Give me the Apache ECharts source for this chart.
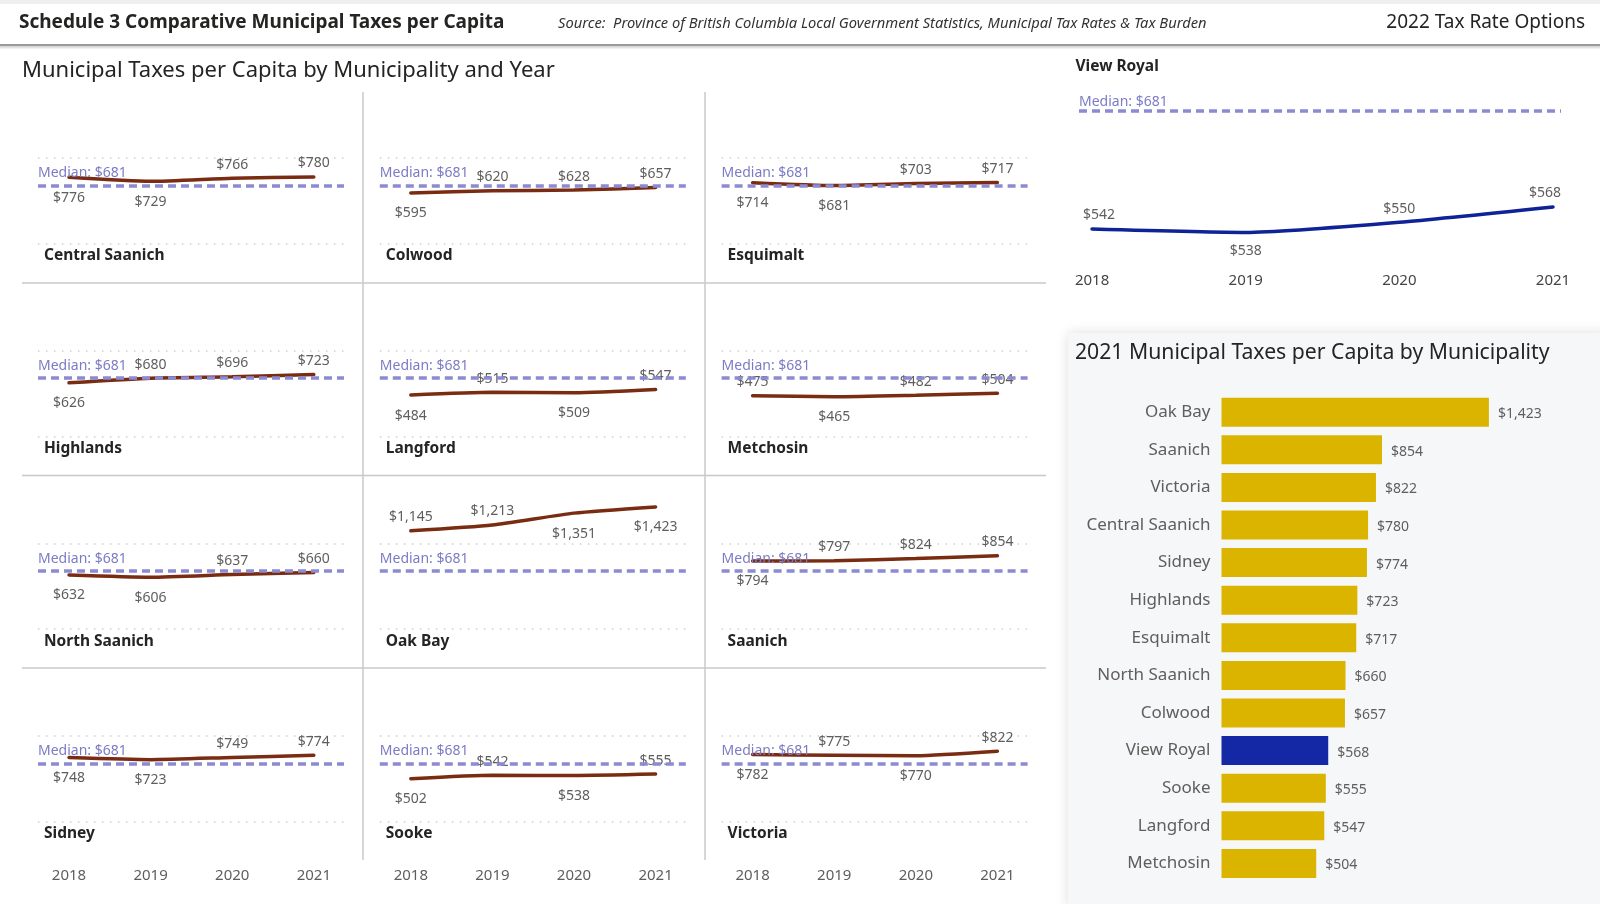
<!DOCTYPE html>
<html><head><meta charset="utf-8">
<script src="https://cdn.jsdelivr.net/npm/echarts@6/dist/echarts.min.js"></script>
<style>html,body{margin:0;padding:0;background:#fff}#c{width:1600px;height:904px}</style>
</head><body><div id="c"></div>
<script>
// ---------- data ----------
const years = [2018, 2019, 2020, 2021];
const medianValue = 681;
const municipalities = ['Central Saanich','Colwood','Esquimalt','Highlands','Langford','Metchosin','North Saanich','Oak Bay','Saanich','Sidney','Sooke','Victoria'];
const centralSaanich = [776, 729, 766, 780];
const colwood = [595, 620, 628, 657];
const esquimalt = [714, 681, 703, 717];
const highlands = [626, 680, 696, 723];
const langford = [484, 515, 509, 547];
const metchosin = [475, 465, 482, 504];
const northSaanich = [632, 606, 637, 660];
const oakBay = [1145, 1213, 1351, 1423];
const saanich = [794, 797, 824, 854];
const sidney = [748, 723, 749, 774];
const sooke = [502, 542, 538, 555];
const victoria = [782, 775, 770, 822];
const viewRoyal = [542, 538, 550, 568];
const selectedMunicipality = 'View Royal';

// label placement (style only)
const labelSides = [
  ['bottom','bottom','top','top'],
  ['bottom','top','top','top'],
  ['bottom','bottom','top','top'],
  ['bottom','top','top','top'],
  ['bottom','top','bottom','top'],
  ['top','bottom','top','top'],
  ['bottom','bottom','top','top'],
  ['top','top','bottom','bottom'],
  ['bottom','top','top','top'],
  ['bottom','bottom','top','top'],
  ['bottom','top','bottom','top'],
  ['bottom','top','bottom','top']
];
const viewRoyalSides = ['top','bottom','top','top'];

const seriesValues = [centralSaanich, colwood, esquimalt, highlands, langford, metchosin, northSaanich, oakBay, saanich, sidney, sooke, victoria];

// ---------- styles / layout ----------
const FONT = '"Noto Sans", "Open Sans", sans-serif';
const BROWN = '#7a2c12';
const MEDIAN_LINE = '#8b8bd3';
const MEDIAN_TEXT = '#7b7bc6';
const LABEL = '#605e5c';
const GOLD = '#dbb400';
const BLUE = '#1427a5';
const CELL_X0 = 38, CELL_DX = 341.8, PLOT_W = 306;
const ZERO_Y0 = 244, CELL_DY = 192.6;
const UNIT_PER_PX = 11.64;
const GRID_H = 1000 / UNIT_PER_PX;
const X_MIN = 2017.62, X_MAX = 2021.37;

const money = v => '$' + Number(v).toLocaleString('en-US');

const grids = [], xAxes = [], yAxes = [], series = [], graphics = [];

// background graphics
graphics.push({type:'rect', shape:{x:0,y:0,width:1600,height:4}, style:{fill:'#efefef'}, z:0});
graphics.push({type:'rect', shape:{x:0,y:44,width:1600,height:2.5}, style:{fill:'#9a9a9a'}, z:0});
graphics.push({type:'rect', shape:{x:0,y:46.5,width:1600,height:2}, style:{fill:'#e2e2e2'}, z:0});
graphics.push({type:'text', x:19, y:22.5, style:{text:'Schedule 3 Comparative Municipal Taxes per Capita', font:'bold 19px ' + FONT, fill:'#252423', verticalAlign:'middle'}});
graphics.push({type:'text', x:558, y:23.5, style:{text:'Source:  Province of British Columbia Local Government Statistics, Municipal Tax Rates & Tax Burden', font:'italic 14.7px ' + FONT, fill:'#333333', verticalAlign:'middle'}});
graphics.push({type:'text', x:1585, y:22.5, style:{text:'2022 Tax Rate Options', font:'19px ' + FONT, fill:'#252423', verticalAlign:'middle', align:'right'}});
graphics.push({type:'text', x:22, y:71, style:{text:'Municipal Taxes per Capita by Municipality and Year', font:'22px ' + FONT, fill:'#252423', verticalAlign:'middle'}});

// dividers of small multiples
[363, 705].forEach(x => graphics.push({type:'line', shape:{x1:x,y1:92,x2:x,y2:860}, style:{stroke:'#c8c8c8', lineWidth:1.5}, z:0}));
[283, 475.5, 668].forEach(y => graphics.push({type:'line', shape:{x1:22,y1:y,x2:1046,y2:y}, style:{stroke:'#c8c8c8', lineWidth:1.5}, z:0}));

// small multiples
municipalities.forEach((name, i) => {
  const r = Math.floor(i / 3), c = i % 3;
  const left = CELL_X0 + c * CELL_DX;
  const zeroY = ZERO_Y0 + r * CELL_DY;
  grids.push({left: left, top: zeroY - GRID_H, width: PLOT_W, height: GRID_H});
  xAxes.push({gridIndex:i, type:'value', min:X_MIN, max:X_MAX,
    axisLine:{show:false}, axisTick:{show:false}, splitLine:{show:false},
    axisLabel:{show: r === 3, customValues: years, formatter: v => String(v), margin: 46, fontSize:15, color:LABEL, fontFamily:FONT}});
  yAxes.push({gridIndex:i, type:'value', min:0, max:1000, interval:1000,
    axisLine:{show:false}, axisTick:{show:false}, axisLabel:{show:false},
    splitLine:{show:true, lineStyle:{type:[1.5,6.5], color:'#cfcfcf', width:1.5}}});
  const vals = seriesValues[i];
  series.push({
    type:'line', name:name, xAxisIndex:i, yAxisIndex:i, clip:false, smooth:0.2,
    symbol:'circle', symbolSize:1, showSymbol:true, itemStyle:{color:'rgba(0,0,0,0)'},
    lineStyle:{color:BROWN, width:3.5, cap:'round'},
    data: years.map((y, k) => ({value:[y, vals[k]], label:{position: labelSides[i][k], distance: labelSides[i][k] === 'top' ? 6 : 13}})),
    label:{show:true, formatter: p => money(p.value[1]), color:LABEL, fontSize:14, fontFamily:FONT},
    markLine:{silent:true, symbol:'none', animation:false,
      lineStyle:{type:[8,5], width:3.5, color:MEDIAN_LINE},
      label:{position:'insideStartTop', formatter: () => 'Median: ' + money(medianValue), color:MEDIAN_TEXT, fontSize:14, fontFamily:FONT, distance:[0,5]},
      data:[{yAxis: medianValue}]},
    animation:false, z:3
  });
  graphics.push({type:'text', x:left + 6, y:zeroY + 12, style:{text:name, font:'bold 15.5px ' + FONT, fill:'#252423', verticalAlign:'middle'}});
});

// View Royal chart
const vrIdx = grids.length;
grids.push({left:1079, top:94.7, width:482, height:170});
xAxes.push({gridIndex:vrIdx, type:'value', min:2017.915, max:2021.052,
  axisLine:{show:false}, axisTick:{show:false}, splitLine:{show:false},
  axisLabel:{customValues: years, formatter: v => String(v), margin:9, fontSize:15, color:'#444444', fontFamily:FONT}});
yAxes.push({gridIndex:vrIdx, type:'value', min:500, max:700,
  axisLine:{show:false}, axisTick:{show:false}, axisLabel:{show:false}, splitLine:{show:false}});
series.push({
  type:'line', name:selectedMunicipality, xAxisIndex:vrIdx, yAxisIndex:vrIdx, clip:false, smooth:0.2,
  symbol:'circle', symbolSize:1, itemStyle:{color:'rgba(0,0,0,0)'},
  lineStyle:{color:'#0f2296', width:3.5, cap:'round'},
  data: years.map((y, k) => ({value:[y, viewRoyal[k]], label:{position: viewRoyalSides[k], distance: viewRoyalSides[k] === 'top' ? 6 : 11,
    offset: k === 0 ? [7, 0] : (k === 3 ? [-8, 0] : [0, 0])}})),
  label:{show:true, formatter: p => money(p.value[1]), color:LABEL, fontSize:14, fontFamily:FONT},
  markLine:{silent:true, symbol:'none', animation:false,
    lineStyle:{type:[8,5], width:3.5, color:MEDIAN_LINE},
    label:{position:'insideStartTop', formatter: () => 'Median: ' + money(medianValue), color:MEDIAN_TEXT, fontSize:14, fontFamily:FONT, distance:[0,2]},
    data:[{yAxis: medianValue}]},
  animation:false, z:3
});
graphics.push({type:'text', x:1075.5, y:67, style:{text:selectedMunicipality, font:'bold 15.5px ' + FONT, fill:'#252423', verticalAlign:'middle'}});

// Bar chart: 2021 values sorted descending
const barNames = municipalities.concat([selectedMunicipality]);
const barValues = seriesValues.map(v => v[v.length - 1]).concat([viewRoyal[viewRoyal.length - 1]]);
const order = barNames.map((n, i) => i).sort((a, b) => barValues[b] - barValues[a]);
const barCategories = order.map(i => barNames[i]);
const barData = order.map(i => barValues[i]);

graphics.push({type:'rect', shape:{x:1068, y:333, width:540, height:575}, style:{fill:'#f6f7f9', shadowBlur:12, shadowColor:'rgba(0,0,0,0.13)', shadowOffsetX:0, shadowOffsetY:0}, z:0});
graphics.push({type:'text', x:1075, y:353, style:{text:'2021 Municipal Taxes per Capita by Municipality', font:'21.2px ' + FONT, fill:'#252423', verticalAlign:'middle'}, z:1});

const barIdx = grids.length;
grids.push({left:1221.5, top:393.4, width:1600 * 267.4 / 1423, height:488.8});
xAxes.push({gridIndex:barIdx, type:'value', min:0, max:1600, show:false, splitLine:{show:false}});
yAxes.push({gridIndex:barIdx, type:'category', data:barCategories, inverse:true,
  axisLine:{show:false}, axisTick:{show:false}, splitLine:{show:false},
  axisLabel:{fontSize:17, color:LABEL, fontFamily:FONT, margin:11}});
series.push({
  type:'bar', xAxisIndex:barIdx, yAxisIndex:barIdx, barWidth:29,
  data: barData.map((v, k) => ({value:v, itemStyle:{color: barCategories[k] === selectedMunicipality ? BLUE : GOLD}})),
  label:{show:true, position:'right', distance:9, offset:[0,2], formatter: p => money(p.value), color:LABEL, fontSize:14, fontFamily:FONT},
  animation:false, z:3
});

const chart = echarts.init(document.getElementById('c'), null, {renderer:'canvas'});
chart.setOption({
  backgroundColor:'#ffffff',
  animation:false,
  textStyle:{fontFamily:FONT},
  grid: grids, xAxis: xAxes, yAxis: yAxes, series: series,
  graphic: {elements: graphics}
});
</script>
</body></html>
